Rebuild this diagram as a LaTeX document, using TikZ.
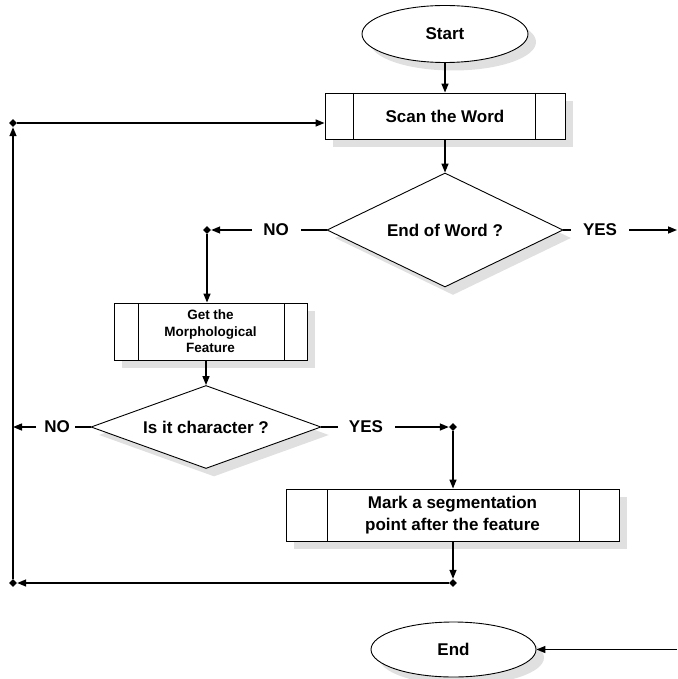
\documentclass[tikz,border=0pt]{standalone}
\usepackage{fontspec}
\setmainfont{Liberation Sans}
\usepackage{tikz}
\usetikzlibrary{positioning, arrows.meta, shapes.geometric, calc}

\begin{document}
\begin{tikzpicture}[
    x=1pt, y=-1pt,
    dotshadow/.style={preaction={draw=none, fill=gray!24,
                      transform canvas={shift={(8pt,-8pt)}}}},
    terminal/.style={ellipse, draw=black, line width=0.9pt, fill=white, inner sep=0pt,
                     minimum width=166pt, minimum height=57pt, dotshadow, font=\bfseries\fontsize{17}{20}\selectfont},
    decision/.style={diamond, draw=black, line width=0.9pt, fill=white, inner sep=0pt,
                     dotshadow, font=\bfseries\fontsize{17}{20}\selectfont},
    process/.style 2 args={rectangle, draw=black, line width=0.9pt, fill=white, inner sep=0pt,
                     align=center, dotshadow,
                     path picture={
                       \draw[line width=0.9pt] ([xshift=#1]path picture bounding box.north west) -- ([xshift=#1]path picture bounding box.south west);
                       \draw[line width=0.9pt] ([xshift=-#2]path picture bounding box.north east) -- ([xshift=-#2]path picture bounding box.south east);
                     }},
    answer/.style={font=\bfseries\fontsize{17}{20}\selectfont, inner sep=0pt},
    junction/.style={diamond, fill=black, inner sep=0pt, minimum size=8pt},
    arrow/.style={-{Triangle[length=9pt, width=7pt]}, line width=1.4pt},
    link/.style={line width=1.4pt}
]
    \useasboundingbox (0,0) rectangle (677,679);

    % Start and scanning
    \node[terminal] (start) at (445, 34) {Start};
    \node[process={28pt}{30pt}, minimum width=240pt, minimum height=46pt,
          font=\bfseries\fontsize{17}{20}\selectfont] (scan) at (445, 116) {Scan the Word};

    % End of word test
    \node[decision, aspect=2.2, minimum width=236pt, minimum height=114pt] (endword) at (445, 230) {End of Word ?};
    \node[answer] (no1) at (276, 230) {NO};
    \node[answer] (yes1) at (600, 230) {YES};
    \coordinate (exit1) at (677, 230);
    \node[junction] (j1) at (207, 230) {};

    % Morphological feature
    \node[process={24pt}{23pt}, minimum width=193pt, minimum height=57pt,
          font=\bfseries\fontsize{13.5}{16.5}\selectfont] (morph) at (210.5, 331.5) {Get the\\Morphological\\Feature};

    % Character test
    \node[decision, aspect=2.9, minimum width=230pt, minimum height=83pt] (ischar) at (206, 427) {Is it character ?};
    \node[answer] (no2) at (57, 427) {NO};
    \node[answer] (yes2) at (366, 427) {YES};
    \node[junction] (j2) at (453, 427) {};

    % Segmentation point
    \node[process={41pt}{40pt}, minimum width=333pt, minimum height=52pt,
          font=\bfseries\fontsize{17}{21.5}\selectfont] (mark) at (452.5, 515) {Mark a segmentation\\point after the feature};

    % Loop back
    \node[junction] (j3) at (453, 583) {};
    \node[junction] (j4) at (13, 583) {};
    \node[junction] (j5) at (13, 123) {};

    % End
    \node[terminal, minimum width=165pt, minimum height=55pt] (endn) at (453.5, 649.5) {End};
    \coordinate (exit2) at (677, 649.5);

    % Connectors
    \draw[arrow] (start) -- (scan);
    \draw[arrow] (scan) -- (endword);
    \draw[link] (endword.west) -- ([xshift=12pt]no1.east);
    \draw[arrow] ([xshift=-11pt]no1.west) -- (j1);
    \draw[arrow] (j1) -- (j1 |- morph.north);
    \draw[link] (endword.east) -- ([xshift=-12pt]yes1.west);
    \draw[arrow] ([xshift=12pt]yes1.east) -- (exit1);
    \draw[arrow] (ischar.north |- morph.south) -- (ischar.north);
    \draw[link] (ischar.west) -- ([xshift=5pt]no2.east);
    \draw[arrow] ([xshift=-8pt]no2.west) -- (no2.west -| j4);
    \draw[link] (ischar.east) -- ([xshift=-11pt]yes2.west);
    \draw[arrow] ([xshift=12pt]yes2.east) -- (j2);
    \draw[arrow] (j2) -- (j2 |- mark.north);
    \draw[arrow] (j3 |- mark.south) -- (j3);
    \draw[arrow] (j3) -- (j4);
    \draw[arrow] (j4) -- (j5);
    \draw[arrow] (j5) -- (j5 -| scan.west);
    \draw[arrow] (exit2) -- (endn);

\end{tikzpicture}
\end{document}
